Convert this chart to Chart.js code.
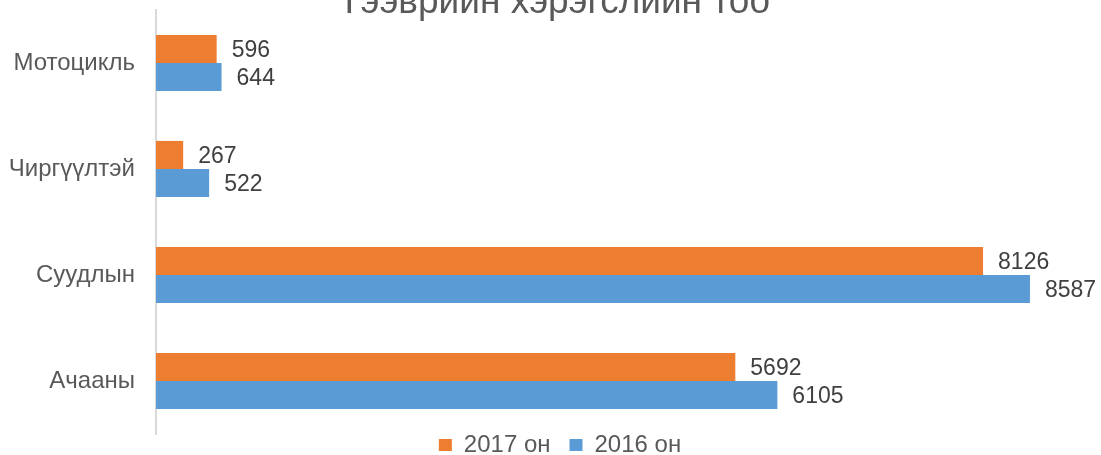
<!DOCTYPE html>
<html>
<head>
<meta charset="utf-8">
<script src="https://cdn.jsdelivr.net/npm/chart.js@4/dist/chart.umd.min.js"></script>
<style>
  html, body { margin: 0; padding: 0; background: #fff; overflow: hidden; }
  #wrap { width: 1101px; height: 455px; position: relative; }
</style>
</head>
<body>
<div id="wrap"><canvas id="myChart"></canvas></div>
<script>
let labels = ['Мотоцикль', 'Чиргүүлтэй', 'Суудлын', 'Ачааны']
let values2017 = [596, 267, 8126, 5692]
let values2016 = [644, 522, 8587, 6105]
let seriesNames = ['2017 он', '2016 он']
let colors = ['#ED7D31', '#5B9BD5']

let font = '"Liberation Sans", Arial, sans-serif'

// value labels next to bar ends
let barLabels = {
    id: 'barLabels',
    afterDatasetsDraw(chart) {
        let ctx = chart.ctx
        ctx.save()
        ctx.font = '23px ' + font
        ctx.fillStyle = '#404040'
        ctx.textAlign = 'left'
        ctx.textBaseline = 'middle'
        chart.data.datasets.forEach((ds, i) => {
            chart.getDatasetMeta(i).data.forEach((bar, j) => {
                ctx.fillText(ds.data[j], bar.x + 15, bar.y + 2)
            })
        })
        ctx.restore()
    }
}

// nudge title and legend to where the original puts them
let nudge = {
    id: 'nudge',
    afterLayout(chart) {
        let t = chart.titleBlock
        t.left += 18
        t.right += 18
        let l = chart.legend
        l.left += 24
        l.right += 24
        l.top -= 20
    }
}

let ctx = document.getElementById('myChart').getContext('2d')

let myChart = new Chart(ctx, {
    type: 'bar',
    data: {
        labels: labels,
        datasets: [{
            label: seriesNames[0],
            data: values2017,
            backgroundColor: colors[0],
        }, {
            label: seriesNames[1],
            data: values2016,
            backgroundColor: colors[1],
        }]
    },
    plugins: [barLabels, nudge],
    options: {
        indexAxis: 'y',
        responsive: true,
        maintainAspectRatio: false,
        animation: false,
        categoryPercentage: 0.53,
        barPercentage: 1.0,
        layout: {
            padding: { left: 0, right: 29, top: -19.4, bottom: -32 }
        },
        scales: {
            x: {
                display: false,
                min: 0,
                max: 9000
            },
            y: {
                grid: { display: false, drawTicks: false },
                border: { display: true, color: '#d9d9d9', width: 2 },
                ticks: {
                    padding: 21,
                    color: '#595959',
                    font: { family: font, size: 24 }
                },
                afterFit(scale) {
                    scale.width = 156
                    scale.paddingTop = 0
                    scale.paddingBottom = 0
                }
            }
        },
        plugins: {
            title: {
                display: true,
                text: 'Тээврийн хэрэгслийн тоо',
                color: '#595959',
                font: { family: font, size: 37, weight: 'normal' },
                padding: { top: 0, bottom: -15 }
            },
            legend: {
                position: 'bottom',
                labels: {
                    boxWidth: 13,
                    boxHeight: 12,
                    padding: 19,
                    color: '#595959',
                    font: { family: font, size: 24 }
                }
            },
            tooltip: { enabled: false }
        }
    }
})
</script>
</body>
</html>
